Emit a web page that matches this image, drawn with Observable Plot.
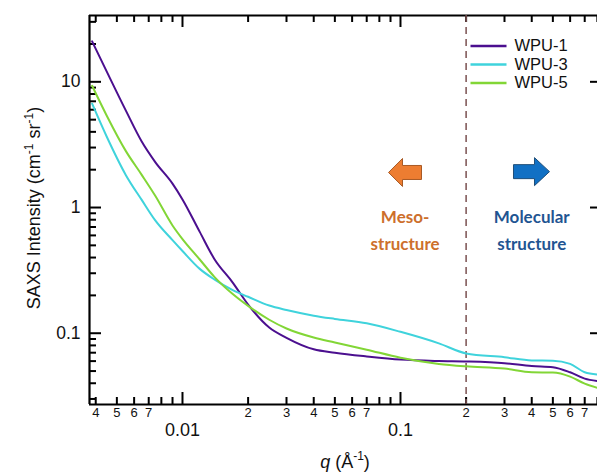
<!DOCTYPE html>
<html><head><meta charset="utf-8">
<script src="https://cdn.jsdelivr.net/npm/d3@7"></script>
<script src="https://cdn.jsdelivr.net/npm/@observablehq/plot@0.6"></script>
<style>
html,body{margin:0;padding:0;background:#fff;overflow:hidden}
</style></head><body><div id="chart"></div>
<script>
// ---- data ----
const q = [0.00385, 0.0045, 0.0055, 0.0065, 0.0075, 0.009, 0.01, 0.012, 0.014, 0.017, 0.02, 0.025, 0.03, 0.04, 0.05, 0.07, 0.1, 0.15, 0.2, 0.3, 0.4, 0.5, 0.6, 0.7, 0.8];
const wpu1 = [21, 12.0, 5.9, 3.35, 2.3, 1.55, 1.16, 0.64, 0.39, 0.253, 0.169, 0.111, 0.092, 0.0745, 0.070, 0.0654, 0.0617, 0.0601, 0.0596, 0.0578, 0.0548, 0.0537, 0.0489, 0.0435, 0.0416];
const wpu3 = [6.7, 3.64, 1.81, 1.15, 0.79, 0.55, 0.451, 0.325, 0.268, 0.22, 0.195, 0.166, 0.153, 0.138, 0.130, 0.120, 0.1026, 0.083, 0.069, 0.0644, 0.0607, 0.0605, 0.0571, 0.0489, 0.047];
const wpu5 = [9.3, 5.35, 2.81, 1.82, 1.24, 0.72, 0.561, 0.386, 0.281, 0.205, 0.165, 0.128, 0.109, 0.0924, 0.0845, 0.074, 0.0638, 0.057, 0.0545, 0.0523, 0.0489, 0.0487, 0.0452, 0.0397, 0.0368];
const seriesNames = ["WPU-1", "WPU-3", "WPU-5"];
const seriesColors = ["#4b0f8f", "#3fd3dc", "#82d636"];

const xDomain = [0.003745, 0.8012];
const yDomain = [0.0271, 33.7];
const xMajorTicks = [0.01, 0.1];
const xMajorLabels = ["0.01", "0.1"];
const xMinorTicks = [0.004, 0.005, 0.006, 0.007, 0.008, 0.009, 0.02, 0.03, 0.04, 0.05, 0.06, 0.07, 0.08, 0.09, 0.2, 0.3, 0.4, 0.5, 0.6, 0.7, 0.8];
const xMinorLabelTicks = [0.004, 0.005, 0.006, 0.007, 0.02, 0.03, 0.04, 0.05, 0.06, 0.07, 0.2, 0.3, 0.4, 0.5, 0.6, 0.7];
const xMinorLabels = ["4", "5", "6", "7", "2", "3", "4", "5", "6", "7", "2", "3", "4", "5", "6", "7"];
const yMajorTicks = [0.1, 1, 10];
const yMajorLabels = ["0.1", "1", "10"];
const yMinorTicks = [0.03, 0.04, 0.05, 0.06, 0.07, 0.08, 0.09, 0.2, 0.3, 0.4, 0.5, 0.6, 0.7, 0.8, 0.9, 2, 3, 4, 5, 6, 7, 8, 9, 20, 30];
const dividerQ = [0.2];
const regionLabels = ["Meso-\nstructure", "Molecular\nstructure"];
const regionQ = [0.105, 0.40];
const regionI = [0.69, 0.69];
const regionColors = ["#cd6f2c", "#1f5592"];
const arrowQ = [0.1049, 0.399];
const arrowI = [1.90, 1.93];

// ---- layout ----
const W = 597, H = 473, ML = 89, MR = 0, MT = 15, MB = 69;
const FW = W - ML - MR, FH = H - MT - MB;

// ---- derived tables ----
const table = [];
[wpu1, wpu3, wpu5].forEach((vals, s) => vals.forEach((v, i) => table.push({q: q[i], I: v, series: seriesNames[s]})));
const xMajorRows = xMajorTicks.map((v, i) => ({v, label: xMajorLabels[i]}));
const xMinorRows = xMinorLabelTicks.map((v, i) => ({v, label: xMinorLabels[i]}));
const yMajorRows = yMajorTicks.map((v, i) => ({v, label: yMajorLabels[i]}));

const font = "'Liberation Sans', Arial, Helvetica, sans-serif";
const seg = (dx, dy) => ({draw(ctx) { ctx.moveTo(0, 0); ctx.lineTo(dx, dy); }});
const arrowLeft = {draw(ctx) {
  ctx.moveTo(-16.5, 0); ctx.lineTo(-2.5, -14); ctx.lineTo(-2.5, -7); ctx.lineTo(16.5, -7);
  ctx.lineTo(16.5, 7); ctx.lineTo(-2.5, 7); ctx.lineTo(-2.5, 14); ctx.closePath();
}};
const arrowRight = {draw(ctx) {
  ctx.moveTo(18, 0); ctx.lineTo(3, -14); ctx.lineTo(3, -7); ctx.lineTo(-18, -7);
  ctx.lineTo(-18, 7); ctx.lineTo(3, 7); ctx.lineTo(3, 14); ctx.closePath();
}};
const tk = {stroke: "#000", strokeWidth: 2};

const marks = [
  // frame (left, bottom, top)
  Plot.ruleX([xDomain[0]], {stroke: "#000", strokeWidth: 2.2}),
  Plot.ruleY([yDomain[0]], {stroke: "#000", strokeWidth: 2.2}),
  Plot.ruleY([yDomain[1]], {stroke: "#000", strokeWidth: 2.2}),
  // ticks left / right (inward)
  Plot.ruleY(yMajorTicks, {insetRight: FW - 12, ...tk}),
  Plot.ruleY(yMinorTicks, {insetRight: FW - 7, ...tk}),
  Plot.ruleY(yMajorTicks, {insetLeft: FW - 7, ...tk}),
  // ticks bottom / top (inward)
  Plot.ruleX(xMajorTicks, {insetTop: FH - 12, ...tk}),
  Plot.ruleX(xMinorTicks, {insetTop: FH - 7, ...tk}),
  Plot.ruleX(xMajorTicks, {insetBottom: FH - 12, ...tk}),
  Plot.ruleX(xMinorTicks, {insetBottom: FH - 7, ...tk}),
  // tick labels
  Plot.text(yMajorRows, {y: "v", text: "label", frameAnchor: "left", dx: -9, textAnchor: "end", lineAnchor: "middle", fontSize: 17.5, fill: "#111"}),
  Plot.text(xMinorRows, {x: "v", text: "label", frameAnchor: "bottom", dy: 8, lineAnchor: "middle", fontSize: 13, fill: "#111"}),
  Plot.text(xMajorRows, {x: "v", text: "label", frameAnchor: "bottom", dy: 26, lineAnchor: "middle", fontSize: 18, fill: "#111"}),
  // divider
  Plot.ruleX(dividerQ, {stroke: "#7a5050", strokeWidth: 1.5, strokeDasharray: "7,5"}),
  // data
  Plot.line(table, {x: "q", y: "I", z: "series", stroke: "series", strokeWidth: 2, curve: "monotone-x"}),
  // legend
  ...seriesNames.map((s, i) => Plot.dot([s], {frameAnchor: "top-right", dx: -127, dy: 30.5 + 18.5 * i, symbol: seg(36, 0), stroke: seriesColors[i], strokeWidth: 2.5, fill: "none"})),
  ...seriesNames.map((s, i) => Plot.text([s], {text: d => d, frameAnchor: "top-right", dx: -83, dy: 30.5 + 18.5 * i, textAnchor: "start", lineAnchor: "middle", fontSize: 16.5, fill: "#111"})),
  // region annotations
  Plot.dot([0], {x: () => arrowQ[0], y: () => arrowI[0], symbol: arrowLeft, fill: "#ed7d31", stroke: "#a85a25", strokeWidth: 1}),
  Plot.dot([0], {x: () => arrowQ[1], y: () => arrowI[1], symbol: arrowRight, fill: "#1170c4", stroke: "#1f4e79", strokeWidth: 1}),
  ...regionLabels.map((t, i) => Plot.text([t], {x: () => regionQ[i], y: () => regionI[i], text: d => d, fill: regionColors[i], fontFamily: "Lato, 'Open Sans', sans-serif", fontWeight: "bold", fontSize: 17, lineHeight: 1.62, textAnchor: "middle", lineAnchor: "middle"}))
];

const chart = Plot.plot({
  width: W, height: H,
  marginLeft: ML, marginRight: MR, marginTop: MT, marginBottom: MB,
  x: {type: "log", domain: xDomain, axis: null},
  y: {type: "log", domain: yDomain, axis: null},
  color: {domain: seriesNames, range: seriesColors},
  style: {fontFamily: font, background: "white", overflow: "visible"},
  marks
});
document.getElementById("chart").appendChild(chart);

// axis titles with superscripts
const svg = d3.select(chart);
const yt = svg.append("text").attr("transform", "translate(40,208) rotate(-90)")
  .attr("text-anchor", "middle").attr("font-family", font).attr("font-size", 18).attr("fill", "#111");
yt.append("tspan").text("SAXS Intensity (cm");
yt.append("tspan").attr("font-size", 12).attr("dy", -7).text("-1");
yt.append("tspan").attr("dy", 7).text(" sr");
yt.append("tspan").attr("font-size", 12).attr("dy", -7).text("-1");
yt.append("tspan").attr("dy", 7).text(")");
const xt = svg.append("text").attr("x", 345).attr("y", 468)
  .attr("text-anchor", "middle").attr("font-family", font).attr("font-size", 18).attr("fill", "#111");
xt.append("tspan").attr("font-style", "italic").text("q");
xt.append("tspan").text(" (Å");
xt.append("tspan").attr("font-size", 12).attr("dy", -8).text("-1");
xt.append("tspan").attr("dy", 8).text(")");
</script>
</body></html>
